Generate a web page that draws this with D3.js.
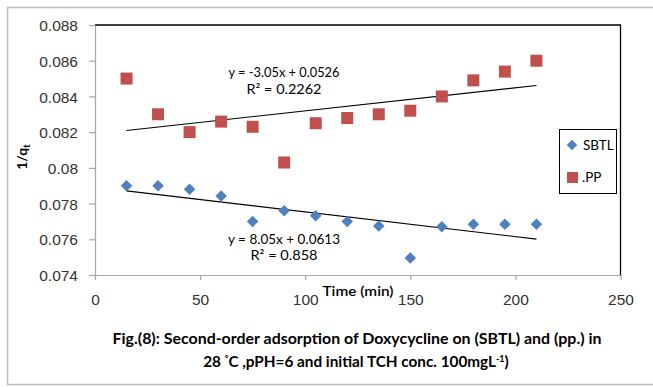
<!DOCTYPE html>
<html><head><meta charset="utf-8">
<script src="https://cdn.jsdelivr.net/npm/d3@7"></script>
<style>body{margin:0;background:#fff}svg{display:block}</style>
</head><body>
<script>
const times = [15,30,45,60,75,90,105,120,135,150,165,180,195,210];
const sbtl = [0.0790,0.0790,0.0788,0.07842,0.0770,0.0776,0.07732,0.0770,0.07674,0.07495,0.0767,0.07684,0.07684,0.07684];
const pp = [0.0850,0.0830,0.0820,0.08259,0.0823,0.0803,0.0825,0.08279,0.0830,0.0832,0.0840,0.0849,0.08539,0.0860];
const xTicks = [0,50,100,150,200,250];
const yTicks = [0.074,0.076,0.078,0.080,0.082,0.084,0.086,0.088];
const yTickLabels = ["0.074","0.076","0.078","0.08","0.082","0.084","0.086","0.088"];
const seriesNames = ["SBTL",".PP"];
const eqSBTL = ["y = 8.05x + 0.0613","R² = 0.858"];
const eqPP = ["y = -3.05x + 0.0526","R² = 0.2262"];

const W=653,H=387;
const svg=d3.select("body").append("svg").attr("width",W).attr("height",H);
svg.append("rect").attr("x",7.5).attr("y",7.5).attr("width",W).attr("height",377).attr("fill","none").attr("stroke","#bdbdbd").attr("stroke-width",1.5);

const x=d3.scaleLinear().domain([0,250]).range([95,620.5]);
const y=d3.scaleLinear().domain([0.074,0.088]).range([275,25]);

svg.append("path").attr("d",`M${x(0)},${y(0.088)}H${x(250)}V${y(0.074)}`).attr("fill","none").attr("stroke","#000").attr("stroke-width",1.3);

const gx=svg.append("g").attr("transform",`translate(0,${y(0.074)})`)
  .call(d3.axisBottom(x).tickValues(xTicks).tickSize(5).tickPadding(14).tickSizeOuter(0));
const gy=svg.append("g").attr("transform",`translate(${x(0)},0)`)
  .call(d3.axisLeft(y).tickValues(yTicks).tickFormat((d,i)=>yTickLabels[i]).tickSize(6).tickPadding(11).tickSizeOuter(0));
[gx,gy].forEach(g=>{
  g.select(".domain").attr("stroke","#a6a6a6").attr("stroke-width",1.2);
  g.selectAll(".tick line").attr("stroke","#a6a6a6").attr("stroke-width",1.2);
  g.selectAll(".tick text").attr("font-family","Liberation Sans, Arial, sans-serif").attr("font-size",15.5).attr("fill","#333");
});
gy.selectAll(".tick text").attr("dy","0.36em");

function fit(xs,ys){
  const n=xs.length,mx=d3.mean(xs),my=d3.mean(ys);
  let sxy=0,sxx=0;for(let i=0;i<n;i++){sxy+=(xs[i]-mx)*(ys[i]-my);sxx+=(xs[i]-mx)**2;}
  const b=sxy/sxx,a=my-b*mx;return t=>a+b*t;
}
const line=d3.line().x(d=>x(d[0])).y(d=>y(d[1]));
[sbtl,pp].forEach(s=>{
  const f=fit(times,s);
  const ext=d3.extent(times);
  svg.append("path").attr("d",line(ext.map(t=>[t,f(t)]))).attr("stroke","#000").attr("stroke-width",1.1).attr("fill","none");
});

const blue="#4f81bd",red="#c0504d";
const diamond=d3.symbolDiamond2? d3.symbolDiamond2 : d3.symbolDiamond;
svg.append("g").selectAll("path").data(times).join("path")
  .attr("d",d3.symbol(diamond,85))
  .attr("transform",(d,i)=>`translate(${x(d)},${y(sbtl[i])})`).attr("fill",blue);
svg.append("g").selectAll("rect").data(times).join("rect")
  .attr("x",d=>x(d)-6).attr("y",(d,i)=>y(pp[i])-6).attr("width",12).attr("height",12).attr("fill",red);

const eqFont="Lato, 'Open Sans', sans-serif";
function eq(lines,cx,y1,y2,w1,w2){
  svg.append("text").attr("x",cx).attr("y",y1).attr("text-anchor","middle").attr("font-family",eqFont).attr("font-size",13.5).attr("fill","#000")
    .attr("textLength",w1).attr("lengthAdjust","spacingAndGlyphs").text(lines[0]);
  svg.append("text").attr("x",cx).attr("y",y2).attr("text-anchor","middle").attr("font-family",eqFont).attr("font-size",13.5).attr("fill","#000")
    .attr("textLength",w2).attr("lengthAdjust","spacingAndGlyphs").text(lines[1]);
}
eq(eqPP,284,77,94,111,75);
eq(eqSBTL,284,244,260,112,67);

svg.append("rect").attr("x",559.5).attr("y",129.5).attr("width",57).attr("height",64).attr("fill","#fff").attr("stroke","#000").attr("stroke-width",1);
svg.append("path").attr("d",d3.symbol(diamond,70)).attr("transform","translate(572,145)").attr("fill",blue);
svg.append("rect").attr("x",567).attr("y",172).attr("width",11).attr("height",11).attr("fill",red);
svg.append("text").attr("x",583).attr("y",150).attr("font-family",eqFont).attr("font-size",13.5).attr("fill","#000").text(seriesNames[0]);
svg.append("text").attr("x",582).attr("y",182).attr("font-family",eqFont).attr("font-size",13.5).attr("fill","#000").text(seriesNames[1]);

svg.append("text").attr("x",358).attr("y",296).attr("text-anchor","middle").attr("font-family",eqFont).attr("font-size",14).attr("font-weight","600").attr("fill","#000")
  .attr("textLength",71).attr("lengthAdjust","spacingAndGlyphs").text("Time (min)");
const yt=svg.append("text").attr("transform","translate(27,157) rotate(-90)").attr("text-anchor","middle").attr("font-family",eqFont).attr("font-size",14).attr("font-weight","bold").attr("fill","#000");
yt.append("tspan").text("1/q");
yt.append("tspan").attr("font-size",10).attr("dy",3).text("t");

svg.append("text").attr("x",357).attr("y",344).attr("text-anchor","middle").attr("font-family",eqFont).attr("font-size",14.5).attr("font-weight","bold").attr("fill","#000")
  .attr("textLength",489).attr("lengthAdjust","spacingAndGlyphs")
  .text("Fig.(8): Second-order adsorption of Doxycycline  on (SBTL) and (pp.) in");
const cap2=svg.append("text").attr("x",356).attr("y",367).attr("text-anchor","middle").attr("font-family",eqFont).attr("font-size",15.3).attr("font-weight","bold").attr("fill","#000");
cap2.append("tspan").text("28 ");
cap2.append("tspan").attr("font-size",9).attr("dy",-5).text("°");
cap2.append("tspan").attr("dy",5).text("C ,pPH=6 and initial TCH conc. 100mgL");
cap2.append("tspan").attr("font-size",9).attr("dy",-5).text("-1");
cap2.append("tspan").attr("dy",5).text(")");
</script>
</body></html>
